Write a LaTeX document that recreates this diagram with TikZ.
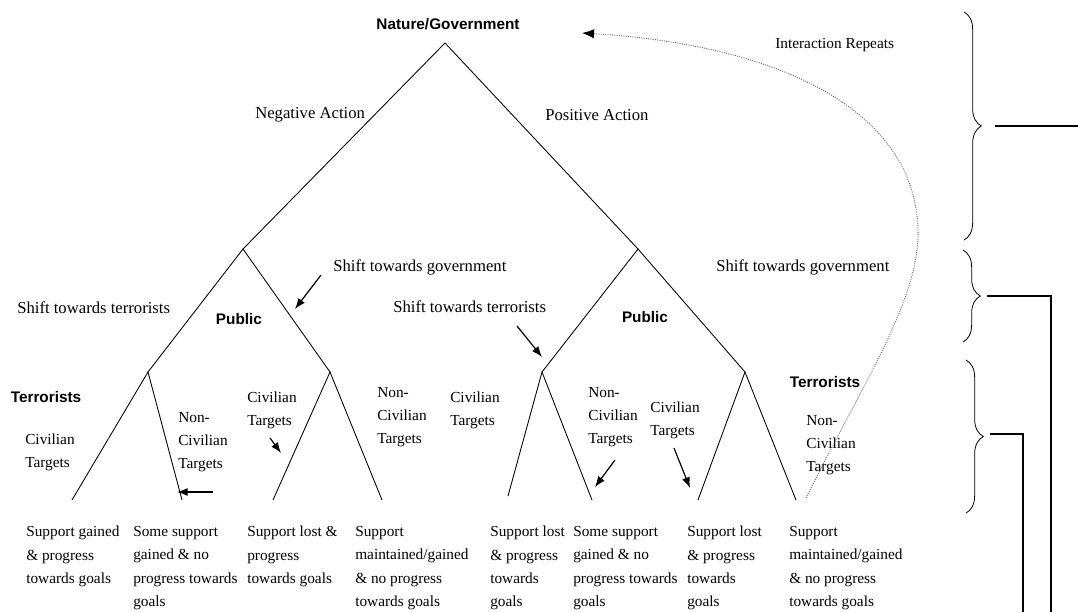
\documentclass[tikz,border=0pt]{standalone}
\usepackage{fontspec}
\setmainfont{Liberation Serif}
\setsansfont{Liberation Sans}
\usetikzlibrary{arrows.meta, decorations.pathreplacing}

\tikzset{
  branch/.style={black, line width=0.65pt},
  lbl/.style={anchor=west, inner sep=0pt, font=\fontsize{12.5}{15}\selectfont},
  tgt/.style={anchor=west, inner sep=0pt, align=left, font=\fontsize{11.5}{17}\selectfont},
  leaf/.style={anchor=north west, inner sep=0pt, align=left, font=\fontsize{11.5}{17.5}\selectfont},
  player/.style={inner sep=0pt, font=\sffamily\bfseries\fontsize{11.5}{14}\selectfont},
  pointer/.style={line width=0.9pt, -{Latex[length=8pt, width=6pt]}},
  grp/.style={decorate, decoration={brace, amplitude=13pt, aspect=0.5}, line width=0.6pt},
  link/.style={line width=1.1pt}
}

\begin{document}
\begin{tikzpicture}[x=0.75pt, y=-0.75pt]
  \useasboundingbox (0,0) rectangle (1078,612);

  % game tree (pixel grid, y downwards)
  \coordinate (root) at (445,43);
  \coordinate (nA) at (243,249);
  \coordinate (pA) at (638,249);
  \coordinate (nT) at (148,372);
  \coordinate (nG) at (330,372);
  \coordinate (pT) at (542,372);
  \coordinate (pG) at (745,372);
  \foreach \n/\x/\y in {nTc/72/500, nTn/182/500, nGc/273/500, nGn/382/500,
                        pTc/508/496, pTn/592/500, pGc/698/500, pGn/796/500}
    \coordinate (\n) at (\x,\y);

  \draw[branch] (nA) -- (root) -- (pA);
  \draw[branch] (nT) -- (nA) -- (nG);
  \draw[branch] (pT) -- (pA) -- (pG);
  \draw[branch] (nTc) -- (nT) -- (nTn);
  \draw[branch] (nGc) -- (nG) -- (nGn);
  \draw[branch] (pTc) -- (pT) -- (pTn);
  \draw[branch] (pGc) -- (pG) -- (pGn);

  % players
  \node[player] (nature) at (448,24) {Nature/Government};
  \node[player] (pubN) at (239,319) {Public};
  \node[player] (pubP) at (645,317) {Public};
  \node[player] (terN) at (46,397) {Terrorists};
  \node[player] (terP) at (825,382) {Terrorists};

  % moves
  \node[lbl] (neg) at (255,115) {Negative Action};
  \node[lbl] (pos) at (545,115) {Positive Action};
  \node[lbl, font=\fontsize{11.5}{14}\selectfont] (rep) at (775,45) {Interaction Repeats};
  \node[lbl] (stN) at (17,308) {Shift towards terrorists};
  \node[lbl] (sgN) at (333,267) {Shift towards government};
  \node[lbl] (stP) at (393,307) {Shift towards terrorists};
  \node[lbl] (sgP) at (716,267) {Shift towards government};

  \node[tgt] (cNT) at (25,452)  {Civilian\\Targets};
  \node[tgt] (xNT) at (178,442) {Non-\\Civilian\\Targets};
  \node[tgt] (cNG) at (247,410) {Civilian\\Targets};
  \node[tgt] (xNG) at (377,417) {Non-\\Civilian\\Targets};
  \node[tgt] (cPT) at (450,410) {Civilian\\Targets};
  \node[tgt] (xPT) at (588,417) {Non-\\Civilian\\Targets};
  \node[tgt] (cPG) at (650,420) {Civilian\\Targets};
  \node[tgt] (xPG) at (806,445) {Non-\\Civilian\\Targets};

  % outcomes
  \node[leaf] (o1) at (26,526)  {Support gained\\\& progress\\towards goals};
  \node[leaf] (o2) at (133,526) {Some support\\gained \& no\\progress towards\\goals};
  \node[leaf] (o3) at (247,526) {Support lost \&\\progress\\towards goals};
  \node[leaf] (o4) at (355,526) {Support\\maintained/gained\\\& no progress\\towards goals};
  \node[leaf] (o5) at (490,526) {Support lost\\\& progress\\towards\\goals};
  \node[leaf] (o6) at (573,526) {Some support\\gained \& no\\progress towards\\goals};
  \node[leaf] (o7) at (687,526) {Support lost\\\& progress\\towards\\goals};
  \node[leaf] (o8) at (789,526) {Support\\maintained/gained\\\& no progress\\towards goals};

  % pointers
  \foreach \a/\b/\c/\d in {321/275/295/309, 517/326/542/357, 213/492/177/492,
                           270/438/281/453, 615/460/595/487, 674/448/690/488}
    \draw[pointer] (\a,\b) -- (\c,\d);

  % repeat loop
  \coordinate (back) at (806,498);
  \coordinate (ret) at (582,33);
  \draw[densely dotted, black!60, line width=0.7pt,
        -{Latex[length=9pt, width=7pt, black]}]
    (back) .. controls (860,388) and (920,300) .. (918,230)
           .. controls (915,110) and (780,45) .. (ret);

  % stage braces
  \draw[grp] (964,12) -- (964,240);
  \draw[grp] (963,250) -- (963,342);
  \draw[grp] (966,360) -- (966,513);
  \coordinate (b1) at (995,126);
  \coordinate (b2) at (987,296);
  \coordinate (b3) at (990,434);
  \draw[link] (b1) -- (1078,126);
  \draw[link] (b2) -- (1051,296) -- (1051,612);
  \draw[link] (b3) -- (1023,434) -- (1023,612);
\end{tikzpicture}
\end{document}
